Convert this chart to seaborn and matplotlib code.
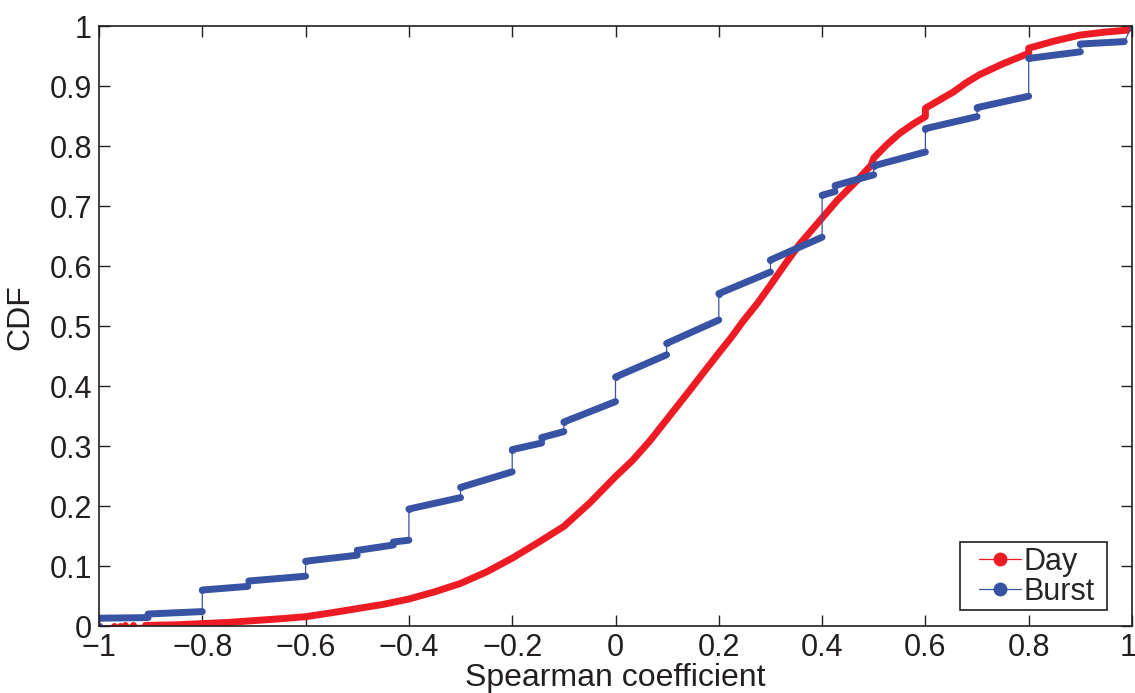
import numpy as np
import pandas as pd
import matplotlib
matplotlib.use("Agg")
import matplotlib.pyplot as plt
import matplotlib.transforms as mtransforms
from matplotlib.lines import Line2D
from matplotlib.patches import Rectangle
import seaborn as sns

# Day CDF
day_x = [-1.00, -0.97, -0.96, -0.95, -0.935, -0.91, -0.85, -0.80, -0.75, -0.70,
         -0.65, -0.60, -0.55, -0.50, -0.45, -0.40, -0.35, -0.30, -0.25, -0.20,
         -0.15, -0.10, -0.05, 0.00, 0.033, 0.066, 0.10, 0.144, 0.17, 0.20,
         0.225, 0.247, 0.275, 0.30, 0.33, 0.357, 0.38, 0.40, 0.43, 0.467,
         0.495, 0.50, 0.525, 0.55, 0.575, 0.60, 0.60, 0.63, 0.654, 0.68,
         0.705, 0.75, 0.80, 0.80, 0.85, 0.90, 0.95, 0.99, 1.00]
day_y = [0.000, 0.000, 0.000, 0.001, 0.001, 0.001, 0.002, 0.004, 0.006, 0.009,
         0.012, 0.0155, 0.022, 0.029, 0.036, 0.045, 0.057, 0.071, 0.090, 0.113,
         0.139, 0.166, 0.205, 0.249, 0.276, 0.308, 0.345, 0.393, 0.422, 0.455,
         0.482, 0.508, 0.538, 0.568, 0.605, 0.637, 0.660, 0.680, 0.710, 0.742,
         0.768, 0.780, 0.802, 0.821, 0.836, 0.849, 0.863, 0.878, 0.890, 0.906,
         0.919, 0.937, 0.9545, 0.963, 0.975, 0.985, 0.990, 0.993, 1.000]

# Burst CDF, as runs of dots (start/end of each run)
burst_x0 = [-1.00, -1.00, -0.905, -0.80, -0.71, -0.60, -0.50, -0.43, -0.40, -0.30,
            -0.20, -0.143, -0.10, 0.00, 0.099, 0.20, 0.30, 0.40, 0.425, 0.50,
            0.60, 0.70, 0.80, 0.90, 1.00]
burst_x1 = [-1.00, -0.905, -0.80, -0.712, -0.60, -0.50, -0.43, -0.40, -0.30, -0.20,
            -0.143, -0.10, 0.00, 0.099, 0.20, 0.30, 0.40, 0.425, 0.50, 0.60,
            0.70, 0.80, 0.90, 0.985, 1.00]
burst_y0 = [0.000, 0.013, 0.020, 0.060, 0.075, 0.108, 0.126, 0.140, 0.195, 0.231,
            0.294, 0.314, 0.340, 0.415, 0.471, 0.554, 0.610, 0.718, 0.734, 0.767,
            0.829, 0.864, 0.946, 0.970, 1.000]
burst_y1 = [0.000, 0.014, 0.024, 0.066, 0.083, 0.118, 0.135, 0.143, 0.214, 0.257,
            0.305, 0.324, 0.374, 0.452, 0.510, 0.590, 0.648, 0.724, 0.752, 0.790,
            0.849, 0.883, 0.957, 0.974, 1.000]

xtick_values = [-1, -0.8, -0.6, -0.4, -0.2, 0, 0.2, 0.4, 0.6, 0.8, 1]
xtick_labels = ['\u22121', '\u22120.8', '\u22120.6', '\u22120.4', '\u22120.2', '0',
                '0.2', '0.4', '0.6', '0.8', '1']
ytick_values = [0, 0.1, 0.2, 0.3, 0.4, 0.5, 0.6, 0.7, 0.8, 0.9, 1]
ytick_labels = ['0', '0.1', '0.2', '0.3', '0.4', '0.5', '0.6', '0.7', '0.8', '0.9', '1']

red = '#ED1C24'
blue = '#3953A4'
ink = '#231F20'
thick = 5.0
thin = 0.9

sns.set_style("ticks")
plt.rcParams['font.family'] = ['Liberation Sans', 'DejaVu Sans']

day = pd.DataFrame({'x': day_x, 'y': day_y})
burst = pd.DataFrame({
    'x': [v for pair in zip(burst_x0, burst_x1) for v in pair],
    'y': [v for pair in zip(burst_y0, burst_y1) for v in pair],
    'run': np.repeat(np.arange(len(burst_x0)), 2),
})

fig = plt.figure(figsize=(11.35, 6.93), dpi=100)
ax = fig.add_axes([99 / 1135, 67 / 693, 1033 / 1135, 600 / 693])

# Day: thin connecting line, sparse dots at the far left, dense dots elsewhere
sns.lineplot(data=day, x='x', y='y', sort=False, estimator=None, color=red,
             linewidth=thin, ax=ax)
sparse = day[day['x'] < -0.92]
ax.plot(sparse['x'], sparse['y'], 'o', color=red, markersize=thick, markeredgewidth=0)
dense = day[day['x'] >= -0.92]
sns.lineplot(data=dense, x='x', y='y', sort=False, estimator=None, color=red,
             linewidth=thick, solid_capstyle='round', solid_joinstyle='round', ax=ax)

# Burst: thin steps between runs, thick runs of dots
sns.lineplot(data=burst, x='x', y='y', sort=False, estimator=None, color=blue,
             linewidth=thin, ax=ax)
sns.lineplot(data=burst, x='x', y='y', units='run', sort=False, estimator=None,
             color=blue, linewidth=thick, solid_capstyle='round', ax=ax)
ax.plot(burst_x0, burst_y0, 'o', color=blue, markersize=thick, markeredgewidth=0)

ax.set_xlim(-1, 1)
ax.set_ylim(0, 1)
ax.set_xticks(xtick_values)
ax.set_xticklabels(xtick_labels)
ax.set_yticks(ytick_values)
ax.set_yticklabels(ytick_labels)
ax.tick_params(direction='in', length=8, width=1, labelsize=22, colors=ink,
               top=True, right=True, pad=5)
for s in ax.spines.values():
    s.set_visible(True)
    s.set_linewidth(1.2)
    s.set_color(ink)

# keep the last x label inside the canvas
last = ax.get_xticklabels()[-1]
last.set_transform(last.get_transform() +
                   mtransforms.ScaledTranslation(-4 / 100, 0, fig.dpi_scale_trans))

ax.set_xlabel('Spearman coefficient', fontsize=23, color=ink, labelpad=0)
ax.set_ylabel('CDF', fontsize=23, color=ink, labelpad=6)
ax.yaxis.set_label_coords(-0.062, 0.515)

# legend box drawn separately (MATLAB-like wide side padding)
ax.add_patch(Rectangle((861 / 1033, 16 / 600), 147 / 1033, 68 / 600,
                       transform=ax.transAxes, facecolor='white', edgecolor=ink,
                       linewidth=1.2, zorder=4.5))
handles = [
    Line2D([0], [0], color=red, linewidth=thin, marker='o', markersize=9),
    Line2D([0], [0], color=blue, linewidth=thin, marker='o', markersize=9),
]
leg = ax.legend(handles, ['Day', 'Burst'], loc='lower right',
                bbox_to_anchor=(996 / 1033, 19 / 600), borderaxespad=0,
                fontsize=22, frameon=False, handlelength=1.37,
                handletextpad=0.1, borderpad=0, labelspacing=0.0)
leg.set_zorder(5)

fig.savefig('out.png', dpi=100)
